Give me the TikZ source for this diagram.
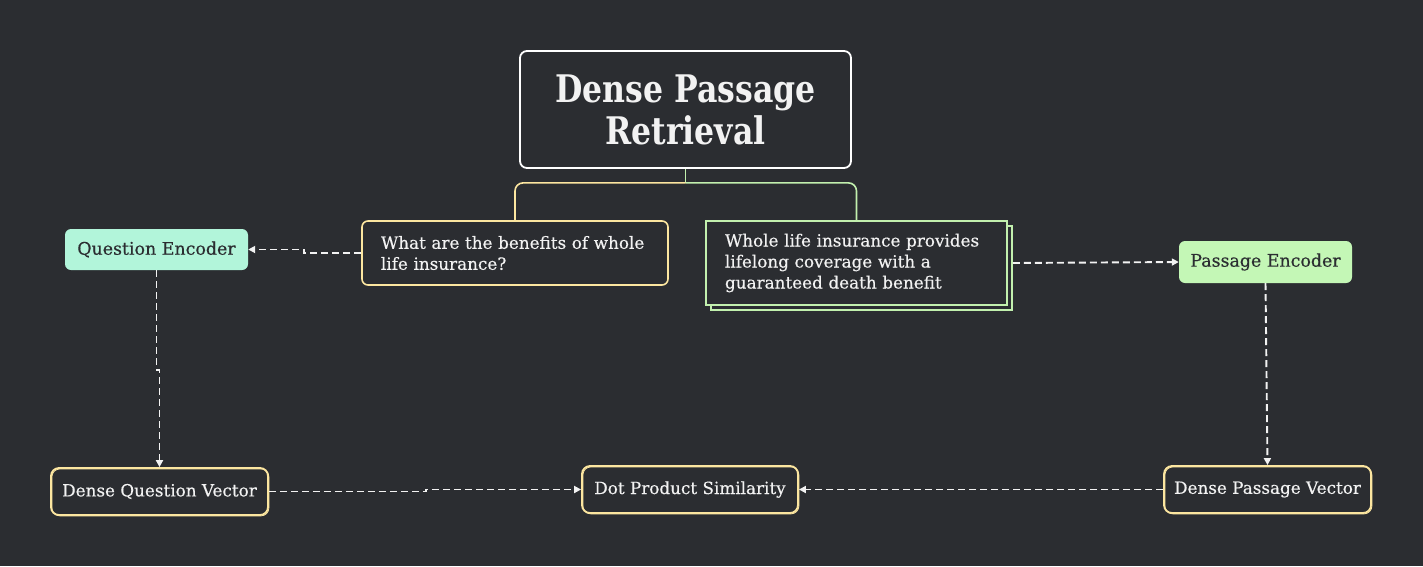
\documentclass[tikz,border=0pt]{standalone}
\usepackage{fontspec}
\setmainfont{DejaVu Serif}
\newfontfamily\medfont[FakeBold=0.4]{DejaVu Serif}
\usetikzlibrary{arrows.meta,calc,shadows}
\definecolor{bg}{HTML}{2B2D31}
\definecolor{fg}{HTML}{F2F2F2}
\definecolor{yel}{HTML}{FCE6A0}
\definecolor{grn}{HTML}{C2F0AE}
\definecolor{mint}{HTML}{B2F5DA}
\definecolor{lgrn}{HTML}{C4F7B6}
\definecolor{dark}{HTML}{2B2D31}
\begin{document}
\begin{tikzpicture}[x=1pt,y=-1pt,
  txt/.style={font=\medfont\fontsize{16.8}{21}\selectfont},
  qbox/.style={draw=yel, line width=1.6pt, rounded corners=6pt, fill=bg, text=fg, txt, align=left, inner xsep=19pt, inner ysep=0pt},
  pbox/.style={draw=grn, line width=1.6pt, fill=bg, text=fg, txt, align=left, inner xsep=19pt, inner ysep=0pt,
    copy shadow={shadow xshift=5pt, shadow yshift=-5pt, draw=grn, fill=bg, line width=1.6pt}},
  enc/.style={rounded corners=6pt, text=dark, font=\medfont\fontsize{17.4}{21}\selectfont, inner sep=0pt},
  vec/.style={draw=yel, line width=1.8pt, rounded corners=8pt, text=fg, txt, inner sep=0pt,
    postaction={draw=yel, line width=0.8pt, rounded corners=11pt, transform canvas={shift={(0.9pt,-0.9pt)}}}},
  arr/.style={draw=fg, line width=1.9pt, dash pattern=on 7pt off 4pt, -{Triangle[length=7pt,width=7pt]}},
  link/.style={line width=1.6pt, rounded corners=8pt}
]
\fill[bg] (0,0) rectangle (1423,566);
\useasboundingbox (0,0) rectangle (1423,566);

\node[draw=white, line width=1.8pt, rounded corners=7pt, minimum width=331pt, minimum height=117pt,
  align=center, text=fg, font=\fontsize{38}{42}\selectfont\bfseries] (t) at (685.5,109.5)
  {\scalebox{0.83}[1]{Dense Passage}\\\scalebox{0.83}[1]{Retrieval}};

\node[qbox, text width=268pt, minimum height=64pt] (q) at (515,253)
  {What are the benefits of whole\\life insurance?};
\node[pbox, text width=263pt, minimum height=84pt] (p) at (856.5,263)
  {Whole life insurance provides\\lifelong coverage with a\\guaranteed death benefit};

\node[enc, fill=mint, minimum width=183pt, minimum height=41pt] (qe) at (156.5,249.5) {Question Encoder};
\node[enc, fill=lgrn, minimum width=173pt, minimum height=42pt] (pe) at (1265.5,262) {Passage Encoder};

\node[vec, minimum width=217pt, minimum height=47pt] (dqv) at (159.5,491.5) {Dense Question Vector};
\node[vec, minimum width=216pt, minimum height=47pt] (dps) at (690,489.5) {Dot Product Similarity};
\node[vec, minimum width=207pt, minimum height=47pt] (dpv) at (1267.5,489.5) {Dense Passage Vector};

\coordinate (j) at ($(t.south)+(0,14)$);
\draw[grn, line width=1.6pt] (t.south) -- (j);
\draw[grn, link] (j) -| (p.north);
\draw[yel, link] (j) -| (q.north);

\draw[arr] (q.west) -- ++(-57,0) |- (qe.east);
\draw[arr] ([xshift=5pt]p.east) -- (pe.west);
\draw[arr] (qe.south) -- ++(0,100) -| (dqv.north);
\draw[arr] (pe.south) -- (dpv.north);
\draw[arr] (dqv.east) -- ++(157,0) |- (dps.west);
\draw[arr] (dpv.west) -- (dps.east);
\end{tikzpicture}
\end{document}
